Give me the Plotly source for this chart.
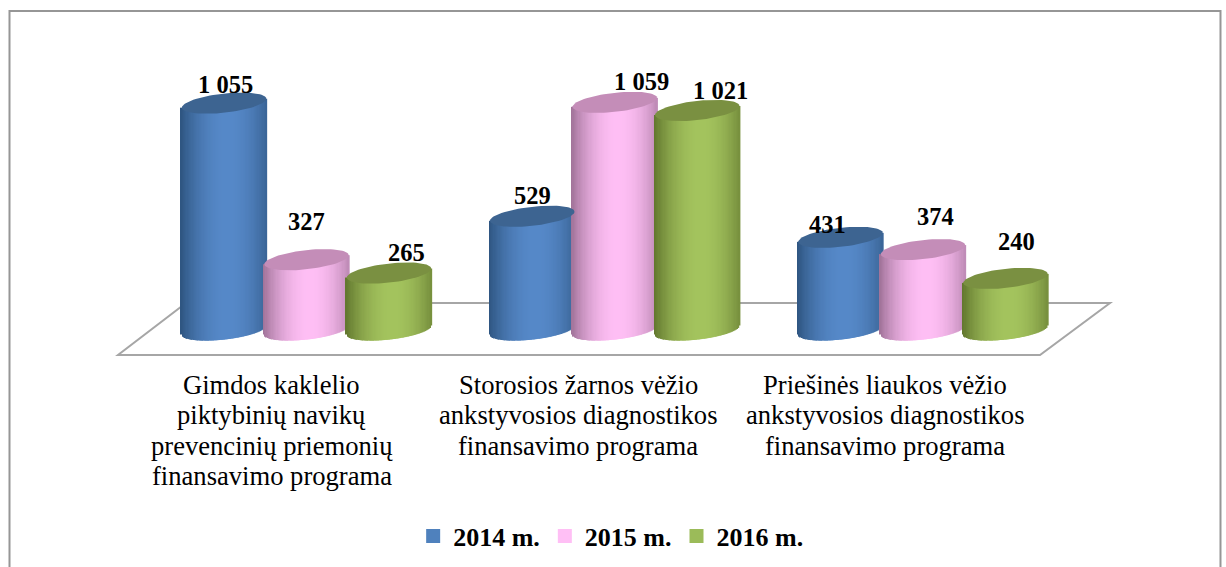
import numpy as np
import plotly.graph_objects as go

categories = [
    "Gimdos kaklelio<br>piktybinių navikų<br>prevencinių priemonių<br>finansavimo programa",
    "Storosios žarnos vėžio<br>ankstyvosios diagnostikos<br>finansavimo programa",
    "Priešinės liaukos vėžio<br>ankstyvosios diagnostikos<br>finansavimo programa",
]
series_names = ["2014 m.", "2015 m.", "2016 m."]
values_2014 = [1055, 529, 431]
values_2015 = [327, 1059, 374]
values_2016 = [265, 1021, 240]
value_labels_2014 = ["1 055", "529", "431"]
value_labels_2015 = ["327", "1 059", "374"]
value_labels_2016 = ["265", "1 021", "240"]

# Styling: (edge, centre, top-cap, legend)
STYLES = [
    ("#2f5682", "#5689c9", "#3d6491", "#4f81bd"),
    ("#a2749a", "#ffbff5", "#c48db8", "#ffbff5"),
    ("#63782f", "#a4c45e", "#7a9041", "#9bbb59"),
]
# Label nudges in pixels (x, y-up) per series and category
LABEL_SHIFT = [
    [(1, 19), (0, 21), (-13, 13)],
    [(0, 38), (27, 21), (12, 33)],
    [(17, 21), (23, 20), (11, 37)],
]

W, H = 1226, 567
PX_PER_CAT = 308.25
PX_PER_VAL = 0.215
X0_PX = 306.5
Y0_PX = 330
BAR_OFFSET = 82.5 / PX_PER_CAT
HALF_W = 42.2 / PX_PER_CAT
TILT = 4.5 / PX_PER_VAL
CAP_B = 9.6 / PX_PER_VAL
LABEL_DX = [-35, -36.5, -38]
LINE_PITCH = 30.4
FIRST_LINE_Y = 385


def hex_rgb(h):
    return np.array([int(h[i:i + 2], 16) for i in (1, 3, 5)], dtype=float)


def shade(edge, centre, u):
    s = 1 - (np.abs(u - 0.1) / 1.1) ** 2.0
    c = hex_rgb(edge) * (1 - s) + hex_rgb(centre) * s
    return "rgb(%d,%d,%d)" % tuple(c)


def px(x, y):
    return x / W, 1 - y / H


fig = go.Figure()
all_values = [values_2014, values_2015, values_2016]
all_labels = [value_labels_2014, value_labels_2015, value_labels_2016]

N = 70
us = np.linspace(-1, 1, N)
annotations = []
for s, vals in enumerate(all_values):
    edge, centre, cap, swatch = STYLES[s]
    for c, v in enumerate(vals):
        cx = c + (s - 1) * BAR_OFFSET
        h = CAP_B * np.sqrt(1 - us ** 2)
        base = TILT * us - h
        top = v + TILT * us
        fig.add_trace(go.Bar(
            x=cx + HALF_W * us,
            y=top - base,
            base=base,
            width=HALF_W * 2 / N * 1.6,
            marker=dict(color=[shade(edge, centre, u) for u in us], line_width=0),
            showlegend=False,
            hoverinfo="skip",
        ))
        t = np.linspace(0, 2 * np.pi, 80)
        fig.add_trace(go.Scatter(
            x=cx + HALF_W * np.cos(t),
            y=v + TILT * np.cos(t) + CAP_B * np.sin(t),
            mode="lines",
            line=dict(width=0, color=cap),
            fill="toself",
            fillcolor=cap,
            showlegend=False,
            hoverinfo="skip",
        ))
        dx, dy = LABEL_SHIFT[s][c]
        annotations.append(dict(
            x=cx, y=v, xref="x", yref="y", text=all_labels[s][c], showarrow=False,
            xshift=dx, yshift=dy,
            font=dict(family="Liberation Serif", size=24.5, color="black", weight="bold"),
            xanchor="center", yanchor="middle",
        ))

for s, name in enumerate(series_names):
    fig.add_trace(go.Scatter(
        x=[None], y=[None], mode="markers", name=name,
        marker=dict(symbol="square", size=14, color=STYLES[s][3]),
    ))

for c, label in enumerate(categories):
    for i, line in enumerate(label.split("<br>")):
        annotations.append(dict(
            x=c, y=1 - (FIRST_LINE_Y + i * LINE_PITCH) / H, xref="x", yref="paper",
            xshift=LABEL_DX[c], text=line,
            showarrow=False, align="center", xanchor="center", yanchor="middle",
            font=dict(family="Liberation Serif", size=26.6, color="black"),
        ))

floor = [px(118, 355), px(1040, 355), px(1110, 303), px(186, 303)]
floor_path = "M " + " L ".join(f"{a:.5f},{b:.5f}" for a, b in floor) + " Z"
fx = [px(9.5, 570), px(9.5, 11), px(1220.5, 11), px(1220.5, 570)]
frame_path = "M " + " L ".join(f"{a:.5f},{b:.5f}" for a, b in fx)

fig.update_layout(
    width=W, height=H,
    margin=dict(l=0, r=0, t=0, b=0),
    paper_bgcolor="white", plot_bgcolor="white",
    barmode="overlay",
    xaxis=dict(visible=False, range=[-X0_PX / PX_PER_CAT, (W - X0_PX) / PX_PER_CAT]),
    yaxis=dict(visible=False, range=[(Y0_PX - H) / PX_PER_VAL, Y0_PX / PX_PER_VAL]),
    shapes=[
        dict(type="path", path=frame_path, xref="paper", yref="paper", layer="below",
             line=dict(color="#969696", width=2)),
        dict(type="path", path=floor_path, xref="paper", yref="paper", layer="below",
             line=dict(color="#a6a6a6", width=2), fillcolor="white"),
    ],
    annotations=annotations,
    legend=dict(
        orientation="h", x=0.4985, xanchor="center", y=1 - 536 / H, yanchor="middle",
        font=dict(family="Liberation Serif", size=26, color="black", weight="bold"),
        bgcolor="rgba(0,0,0,0)",
    ),
    font=dict(family="Liberation Serif"),
)

fig.write_html("out.html", config={"displayModeBar": False},
               post_script="document.body.style.margin='0';")
